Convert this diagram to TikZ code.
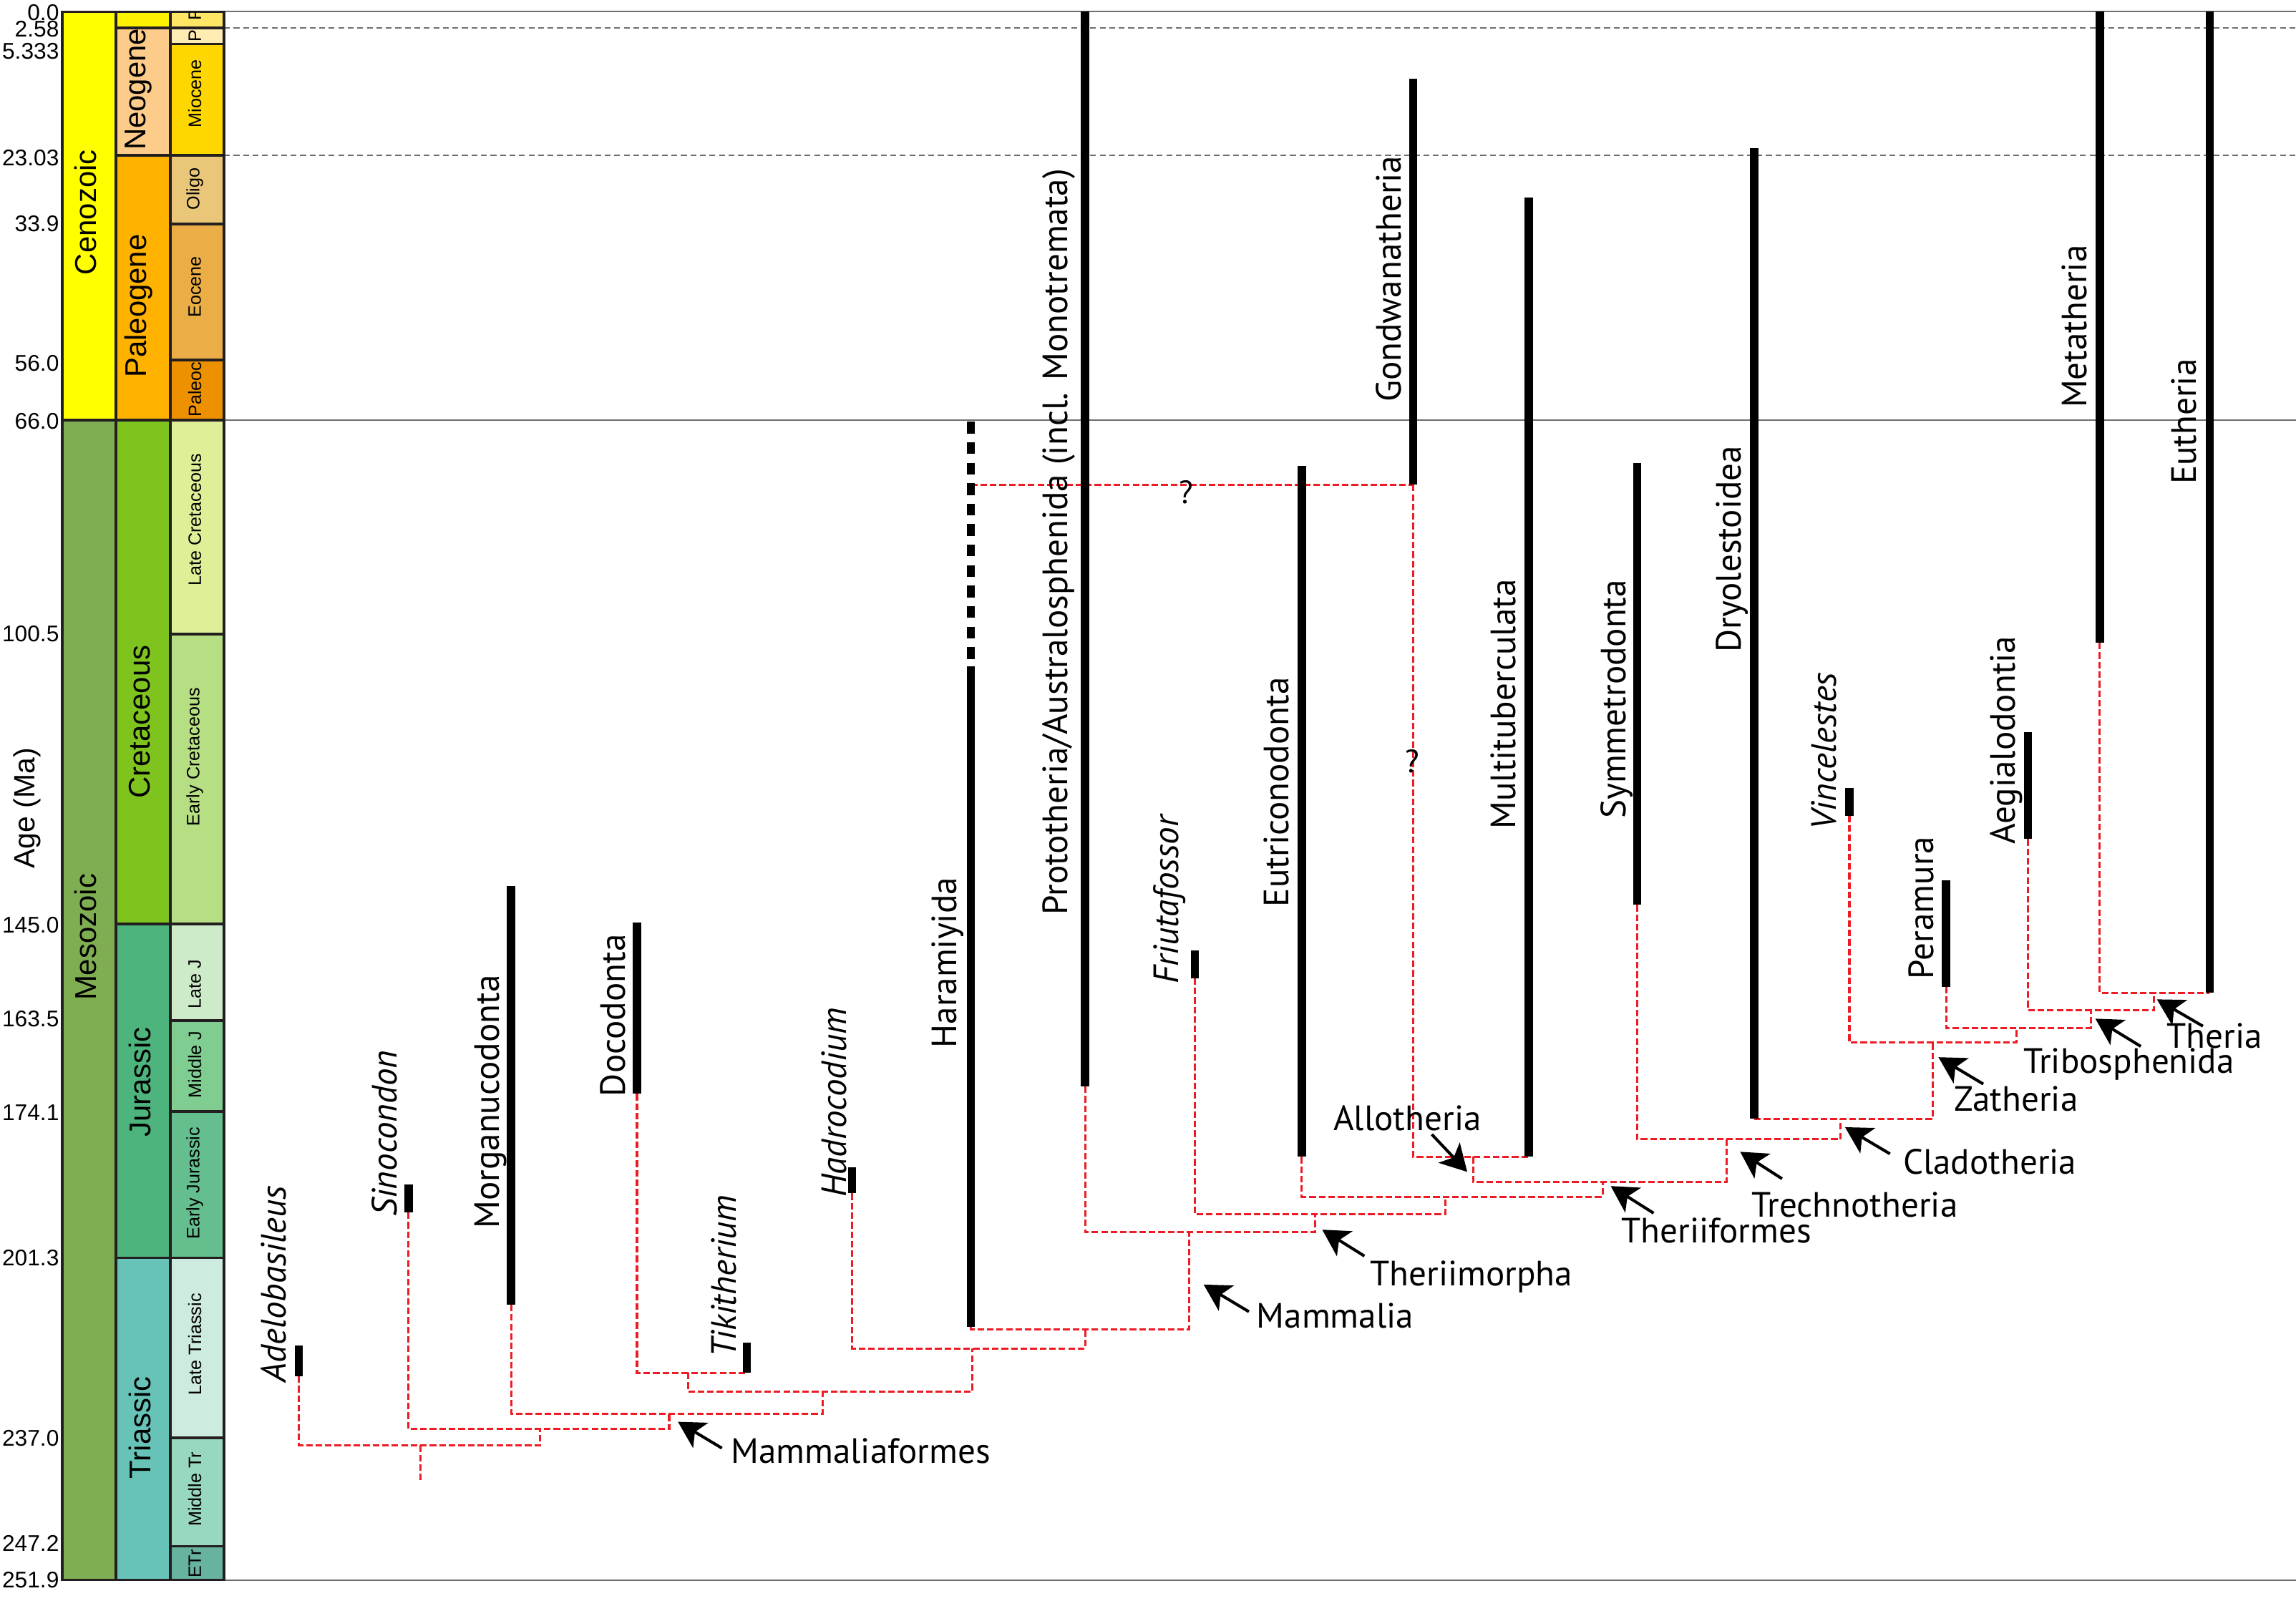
\documentclass[tikz,border=0pt]{standalone}
\usepackage{fontspec}
\setmainfont{Liberation Sans}
\newfontfamily\labfont{PT Sans}
\usetikzlibrary{arrows.meta}
\definecolor{treered}{RGB}{237,28,36}
\definecolor{gridgray}{RGB}{110,110,110}
\definecolor{boxc}{RGB}{35,31,32}
\definecolor{cCeno}{RGB}{255,255,0}
\definecolor{cMeso}{RGB}{127,174,82}
\definecolor{cQuat}{RGB}{255,242,0}
\definecolor{cNeo}{RGB}{253,204,138}
\definecolor{cPaleo}{RGB}{255,178,0}
\definecolor{cCret}{RGB}{127,196,30}
\definecolor{cJur}{RGB}{78,180,125}
\definecolor{cTri}{RGB}{103,195,183}
\definecolor{cPleis}{RGB}{255,230,100}
\definecolor{cPlio}{RGB}{255,236,178}
\definecolor{cMio}{RGB}{255,215,0}
\definecolor{cOlig}{RGB}{234,199,120}
\definecolor{cEoc}{RGB}{235,174,70}
\definecolor{cPalc}{RGB}{237,145,0}
\definecolor{cLK}{RGB}{221,240,152}
\definecolor{cEK}{RGB}{182,222,130}
\definecolor{cLJ}{RGB}{205,235,200}
\definecolor{cMJ}{RGB}{128,205,146}
\definecolor{cEJ}{RGB}{100,190,142}
\definecolor{cLT}{RGB}{205,235,222}
\definecolor{cMT}{RGB}{152,216,190}
\definecolor{cET}{RGB}{104,178,160}
\begin{document}
\begin{tikzpicture}[x=1pt,y=-1pt,
  tbar/.style={line width=5.6pt},
  rl/.style={draw=treered, line width=1.5pt, dash pattern=on 4.5pt off 2pt},
  txl/.style={font=\labfont\fontsize{24}{24}\selectfont, rotate=90, anchor=base, inner sep=0pt},
  itxl/.style={font=\labfont\itshape\fontsize{24}{24}\selectfont, rotate=90, anchor=base, inner sep=0pt},
  cl/.style={font=\labfont\fontsize{24}{24}\selectfont, anchor=base west, inner sep=0pt},
  arr/.style={line width=2pt, -{Stealth[length=18pt,width=20pt,inset=4.5pt]}},
  qm/.style={font=\labfont\fontsize{22}{22}\selectfont, inner sep=0pt},
  agel/.style={font=\fontsize{15.5}{15.5}\selectfont, anchor=east, inner sep=0pt},
  epl/.style={font=\fontsize{12.3}{12.3}\selectfont, rotate=90, inner sep=0pt},
  perl/.style={font=\fontsize{20.5}{20.5}\selectfont, rotate=90, inner sep=0pt},
  tbox/.style={draw=boxc, line width=1.8pt},
  gline/.style={draw=gridgray, line width=0.9pt},
  gdash/.style={draw=gridgray, line width=0.9pt, dash pattern=on 4pt off 2.5pt},
]
\useasboundingbox (0,0) rectangle (1568,1093);
\fill[white] (0,0) rectangle (1568,1093);
% ---------- grid lines ----------
\draw[gline] (153,8) -- (1568,8);
\draw[gline] (153,287) -- (1568,287);
\draw[gline] (153,1079) -- (1568,1079);
\draw[gdash] (153,19) -- (1568,19);
\draw[gdash] (153,106) -- (1568,106);
% ---------- time scale ----------
\filldraw[tbox, fill=cCeno] (42.4,8) rectangle (79.3,287);
\filldraw[tbox, fill=cMeso] (42.4,287) rectangle (79.3,1079);
\filldraw[tbox, fill=cQuat] (79.3,8) rectangle (116.2,19);
\filldraw[tbox, fill=cNeo] (79.3,19) rectangle (116.2,106);
\filldraw[tbox, fill=cPaleo] (79.3,106) rectangle (116.2,287);
\filldraw[tbox, fill=cCret] (79.3,287) rectangle (116.2,631);
\filldraw[tbox, fill=cJur] (79.3,631) rectangle (116.2,859);
\filldraw[tbox, fill=cTri] (79.3,859) rectangle (116.2,1079);
\filldraw[tbox, fill=cPleis] (116.2,8) rectangle (153.1,19);
\filldraw[tbox, fill=cPlio] (116.2,19) rectangle (153.1,30);
\filldraw[tbox, fill=cMio] (116.2,30) rectangle (153.1,106);
\filldraw[tbox, fill=cOlig] (116.2,106) rectangle (153.1,153);
\filldraw[tbox, fill=cEoc] (116.2,153) rectangle (153.1,246);
\filldraw[tbox, fill=cPalc] (116.2,246) rectangle (153.1,287);
\filldraw[tbox, fill=cLK] (116.2,287) rectangle (153.1,433);
\filldraw[tbox, fill=cEK] (116.2,433) rectangle (153.1,631);
\filldraw[tbox, fill=cLJ] (116.2,631) rectangle (153.1,697);
\filldraw[tbox, fill=cMJ] (116.2,697) rectangle (153.1,759);
\filldraw[tbox, fill=cEJ] (116.2,759) rectangle (153.1,859);
\filldraw[tbox, fill=cLT] (116.2,859) rectangle (153.1,982);
\filldraw[tbox, fill=cMT] (116.2,982) rectangle (153.1,1056);
\filldraw[tbox, fill=cET] (116.2,1056) rectangle (153.1,1079);
\node[perl] (eCeno) at (58.3,145) {Cenozoic};
\node[perl] (eMeso) at (58.3,640) {Mesozoic};
\node[perl] (pNeo) at (94.5,61) {Neogene};
\node[perl] (pPal) at (94.5,209) {Paleogene};
\node[perl] (pCre) at (95.5,493) {Cretaceous};
\node[perl] (pJur) at (95.5,739) {Jurassic};
\node[perl] (pTri) at (95.5,975) {Triassic};
\begin{scope}
\clip (116.2,8) rectangle (153.1,19);
\node[epl] (ePl) at (133,10) {P};
\end{scope}
\node[epl] (ePli) at (133,24.5) {P};
\node[epl] (eMio) at (133,64) {Miocene};
\node[epl] (eOli) at (133,129) {Oligo};
\node[epl] (eEoc) at (133,196) {Eocene};
\node[epl] (ePac) at (133,266) {Paleoc};
\node[epl] (eLK) at (133,355) {Late Cretaceous};
\node[epl] (eEK) at (133,517) {Early Cretaceous};
\node[epl] (eLJ) at (133,672) {Late J};
\node[epl] (eMJ) at (133,727) {Middle J};
\node[epl] (eEJ) at (133,808) {Early Jurassic};
\node[epl] (eLT) at (133,918) {Late Triassic};
\node[epl] (eMT) at (133,1017) {Middle Tr};
\node[epl] (eET) at (133,1068) {ETr};
\node[agel] (a0) at (40.5,8.4) {0.0};
\node[agel] (a1) at (40.5,20) {2.58};
\node[agel] (a2) at (40.5,35) {5.333};
\node[agel] (a3) at (40.5,108) {23.03};
\node[agel] (a4) at (40.5,153) {33.9};
\node[agel] (a5) at (40.5,248) {56.0};
\node[agel] (a6) at (40.5,287.6) {66.0};
\node[agel] (a7) at (40.5,433) {100.5};
\node[agel] (a8) at (40.5,631.7) {145.0};
\node[agel] (a9) at (40.5,696) {163.5};
\node[agel] (a10) at (40.5,759.6) {174.1};
\node[agel] (a11) at (40.5,859) {201.3};
\node[agel] (a12) at (40.5,982) {237.0};
\node[agel] (a13) at (40.5,1054) {247.2};
\node[agel] (a14) at (40.5,1079) {251.9};
\node[font=\fontsize{20}{20}\selectfont, rotate=90, inner sep=0pt] (age) at (18.3,552) {Age (Ma)};
% ---------- taxon range bars ----------
\coordinate (adT) at (204,919);  \coordinate (adB) at (204,940);
\coordinate (siT) at (279,809);  \coordinate (siB) at (279,828);
\coordinate (moT) at (349,605);  \coordinate (moB) at (349,891);
\coordinate (doT) at (435,630);  \coordinate (doB) at (435,747);
\coordinate (tiT) at (510,917);  \coordinate (tiB) at (510,937.5);
\coordinate (haT) at (582,797);  \coordinate (haB) at (582,815);
\coordinate (hrD) at (663,288);  \coordinate (hrQ) at (663,331);
\coordinate (hrE) at (663,452);
\coordinate (hrT) at (663,455);  \coordinate (hrB) at (663,906);
\coordinate (prT) at (741,8);    \coordinate (prB) at (741,742);
\coordinate (frT) at (816,649);  \coordinate (frB) at (816,668);
\coordinate (euT) at (889,318);  \coordinate (euB) at (889,790);
\coordinate (goT) at (965,54);   \coordinate (goB) at (965,331);
\coordinate (muT) at (1044,135); \coordinate (muB) at (1044,790);
\coordinate (syT) at (1118,316); \coordinate (syB) at (1118,618);
\coordinate (drT) at (1198,101); \coordinate (drB) at (1198,764);
\coordinate (viT) at (1263,538); \coordinate (viB) at (1263,557);
\coordinate (peT) at (1329,601); \coordinate (peB) at (1329,674);
\coordinate (aeT) at (1385,500); \coordinate (aeB) at (1385,573);
\coordinate (meT) at (1434,8);   \coordinate (meB) at (1434,439);
\coordinate (etT) at (1509,8);   \coordinate (etB) at (1509,678);
% ---------- tree nodes (stem x, level y) ----------
\coordinate (nA) at (287,987);
\coordinate (root) at (287,1012);
\coordinate (nB) at (369,976);
\coordinate (nC) at (457,965.5);
\coordinate (nD) at (562,950.5);
\coordinate (nE) at (470,937.5);
\coordinate (nF) at (664,921);
\coordinate (nG) at (741,908);
\coordinate (nH) at (812,841.5);
\coordinate (nI) at (898,829.3);
\coordinate (nJ) at (987,817.3);
\coordinate (nK) at (1094.4,807);
\coordinate (nL) at (1006,790);
\coordinate (nM) at (1179,778);
\coordinate (nN) at (1257,764);
\coordinate (nO) at (1320,712);
\coordinate (nP) at (1377,702);
\coordinate (nQ) at (1428,690);
\coordinate (nR) at (1471,678);
% red dashed branches
\draw[rl] (nA) -- (root);
\draw[rl] (adB) |- (nB |- nA) -- (nB);
\draw[rl] (siB) |- (nC |- nB) -- (nC);
\draw[rl] (moB) |- (nD |- nC) -- (nD);
\draw[rl] (nE) |- (nF |- nD) -- (nF);
\draw[rl] (doB) |- (tiB);
\draw[rl] (haB) |- (nG |- nF) -- (nG);
\draw[rl] (hrB) |- (nH |- nG) -- (nH);
\draw[rl] (prB) |- (nI |- nH) -- (nI);
\draw[rl] (frB) |- (nJ |- nI) -- (nJ);
\draw[rl] (euB) |- (nK |- nJ) -- (nK);
\draw[rl] (nL) |- (nM |- nK) -- (nM);
\draw[rl] (goB) |- (muB);
\draw[rl] (syB) |- (nN |- nM) -- (nN);
\draw[rl] (drB) |- (nO |- nN) -- (nO);
\draw[rl] (viB) |- (nP |- nO) -- (nP);
\draw[rl] (peB) |- (nQ |- nP) -- (nQ);
\draw[rl] (aeB) |- (nR |- nQ) -- (nR);
\draw[rl] (meB) |- (etB);
\draw[rl] (hrQ) -- (goB);
\node[qm] (q1) at (810,336) {?};
\node[qm] (q2) at (964.5,520) {?};
% black bars
\draw[tbar] (adT) -- (adB);
\draw[tbar] (siT) -- (siB);
\draw[tbar] (moT) -- (moB);
\draw[tbar] (doT) -- (doB);
\draw[tbar] (tiT) -- (tiB);
\draw[tbar] (haT) -- (haB);
\draw[tbar, dash pattern=on 8pt off 6pt] (hrD) -- (hrE);
\draw[tbar] (hrT) -- (hrB);
\draw[tbar] (prT) -- (prB);
\draw[tbar] (frT) -- (frB);
\draw[tbar] (euT) -- (euB);
\draw[tbar] (goT) -- (goB);
\draw[tbar] (muT) -- (muB);
\draw[tbar] (syT) -- (syB);
\draw[tbar] (drT) -- (drB);
\draw[tbar] (viT) -- (viB);
\draw[tbar] (peT) -- (peB);
\draw[tbar] (aeT) -- (aeB);
\draw[tbar] (meT) -- (meB);
\draw[tbar] (etT) -- (etB);
% taxon labels
\node[itxl] (tAd) at (195.5,877) {Adelobasileus};
\node[itxl] (tSi) at (271,774) {Sinocondon};
\node[txl] (tMo) at (341,752.5) {Morganucodonta};
\node[txl] (tDo) at (427,693.5) {Docodonta};
\node[itxl] (tTi) at (502.5,871.6) {Tikitherium};
\node[itxl] (tHa) at (578,753) {Hadrocodium};
\node[txl] (tHr) at (653,657.5) {Haramiyida};
\node[txl] (tPr) at (729,370) {Prototheria/Australosphenida (incl. Monotremata)};
\node[itxl] (tFr) at (805,614.5) {Friutafossor};
\node[txl] (tEu) at (880,541) {Eutriconodonta};
\node[txl] (tGo) at (957,190.5) {Gondwanatheria};
\node[txl] (tMu) at (1035,481) {Multituberculata};
\node[txl] (tSy) at (1110,477.5) {Symmetrodonta};
\node[txl] (tDr) at (1189,375) {Dryolestoidea};
\node[itxl] (tVi) at (1254,513) {Vincelestes};
\node[txl] (tPe) at (1320.6,620) {Peramura};
\node[txl] (tAe) at (1376,505.5) {Aegialodontia};
\node[txl] (tMe) at (1425,223) {Metatheria};
\node[txl] (tEt) at (1500,288) {Eutheria};
% clade labels and arrows
\node[cl] (lMaf) at (499,999.4) {Mammaliaformes};
\node[cl] (lMam) at (858,907) {Mammalia};
\node[cl] (lThm) at (935.5,878) {Theriimorpha};
\node[cl] (lThf) at (1107,848.8) {Theriiformes};
\node[cl] (lTre) at (1196,831) {Trechnotheria};
\node[cl] (lAll) at (910.5,772) {Allotheria};
\node[cl] (lCla) at (1299.5,802) {Cladotheria};
\node[cl] (lZat) at (1334.5,758.6) {Zatheria};
\node[cl] (lTri) at (1381.6,733) {Tribosphenida};
\node[cl] (lThe) at (1479.5,716) {Theria};
\coordinate (aMaf1) at (493,989);     \coordinate (aMaf2) at (463,971);
\coordinate (aMam1) at (852.9,895.8); \coordinate (aMam2) at (822,877.3);
\coordinate (aThm1) at (931.8,857.8); \coordinate (aThm2) at (903,839.8);
\coordinate (aThf1) at (1129.3,828.5);\coordinate (aThf2) at (1100,810);
\coordinate (aTre1) at (1217,805);    \coordinate (aTre2) at (1188.4,786.6);
\coordinate (aAll1) at (977.8,774.7); \coordinate (aAll2) at (1002,800.3);
\coordinate (aCla1) at (1290.7,788);  \coordinate (aCla2) at (1260,769.8);
\coordinate (aZat1) at (1354.4,740.3);\coordinate (aZat2) at (1323.8,722);
\coordinate (aTri1) at (1462,714.6);  \coordinate (aTri2) at (1431,695.7);
\coordinate (aThe1) at (1504.4,700.8);\coordinate (aThe2) at (1473,682.5);
\draw[arr] (aMaf1) -- (aMaf2);
\draw[arr] (aMam1) -- (aMam2);
\draw[arr] (aThm1) -- (aThm2);
\draw[arr] (aThf1) -- (aThf2);
\draw[arr] (aTre1) -- (aTre2);
\draw[arr] (aAll1) -- (aAll2);
\draw[arr] (aCla1) -- (aCla2);
\draw[arr] (aZat1) -- (aZat2);
\draw[arr] (aTri1) -- (aTri2);
\draw[arr] (aThe1) -- (aThe2);
\end{tikzpicture}
\end{document}
